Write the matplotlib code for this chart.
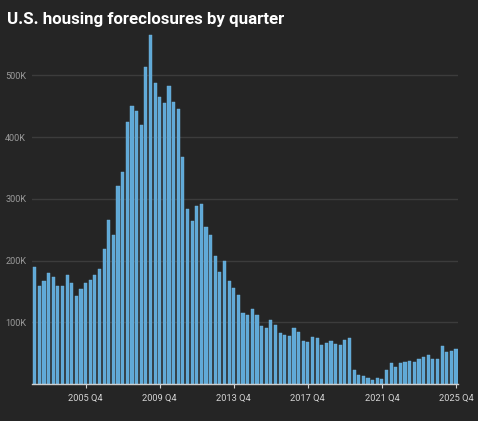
import numpy as np
import matplotlib
matplotlib.use("Agg")
import matplotlib.pyplot as plt

# quarterly foreclosures, 2003 Q1 .. 2025 Q4
foreclosures = [
    190, 158, 167, 180, 174, 158, 158, 176, 164, 143, 154, 163,   # 2003-2005
    169, 176, 186, 218, 265, 241, 321, 344, 425, 451, 442, 419,   # 2006-2008
    514, 565, 488, 465, 456, 483, 457, 446, 368, 284, 264, 289,   # 2009-2011
    291, 255, 241, 208, 182, 199, 167, 156, 144, 115, 112, 121,   # 2012-2014
    111, 94, 91, 103, 96, 82, 80, 78, 90, 84, 69, 68,             # 2015-2017
    76, 75, 63, 67, 70, 65, 64, 71, 74, 23, 15, 13,               # 2018-2020
    10, 7, 9, 8, 23, 34, 28, 34, 36, 38, 36, 40,                  # 2021-2023
    43, 47, 41, 41, 61, 52, 54, 57,                               # 2024-2025
]
foreclosures = np.array(foreclosures) * 1000
quarters = [f"{y} Q{q}" for y in range(2003, 2026) for q in range(1, 5)]
tick_labels = ["2005 Q4", "2009 Q4", "2013 Q4", "2017 Q4", "2021 Q4", "2025 Q4"]
y_ticks = [100000, 200000, 300000, 400000, 500000]
y_tick_labels = ["100K", "200K", "300K", "400K", "500K"]

bg = "#252525"
plt.rcParams["font.family"] = ["Roboto", "DejaVu Sans"]

fig = plt.figure(figsize=(4.78, 4.21), dpi=100, facecolor=bg)
ax = fig.add_axes([0.0678, 0.0879, 0.891, 0.8428], facecolor=bg)

x = np.arange(len(quarters))
ax.bar(x, foreclosures, width=0.68, color="#5fa9d7", edgecolor="#74b6e0",
       linewidth=0.3, zorder=3)

ax.set_xlim(-0.5, len(quarters) - 0.5)
ax.set_ylim(0, 575000)

ax.set_yticks(y_ticks)
ax.set_yticklabels(y_tick_labels)
ax.grid(axis="y", color="#3c3c3c", linewidth=1, zorder=0)
ax.tick_params(axis="y", length=0, pad=4.5, labelsize=6.6, labelcolor="#9a9a9a")

ax.set_xticks([quarters.index(t) for t in tick_labels])
ax.set_xticklabels(tick_labels)
ax.tick_params(axis="x", length=3, width=0.8, color="#cfcfcf", pad=4,
               labelsize=6.7, labelcolor="#d4d4d4")

for s in ["top", "right", "left"]:
    ax.spines[s].set_visible(False)
ax.spines["bottom"].set_color("#cfcfcf")
ax.spines["bottom"].set_linewidth(1)
ax.spines["bottom"].set_zorder(4)

fig.text(0.015, 0.943, "U.S. housing foreclosures by quarter", color="white",
         fontsize=12.2, fontweight="bold", va="baseline", ha="left")

fig.savefig("out.png", dpi=100, facecolor=bg)
plt.close(fig)
